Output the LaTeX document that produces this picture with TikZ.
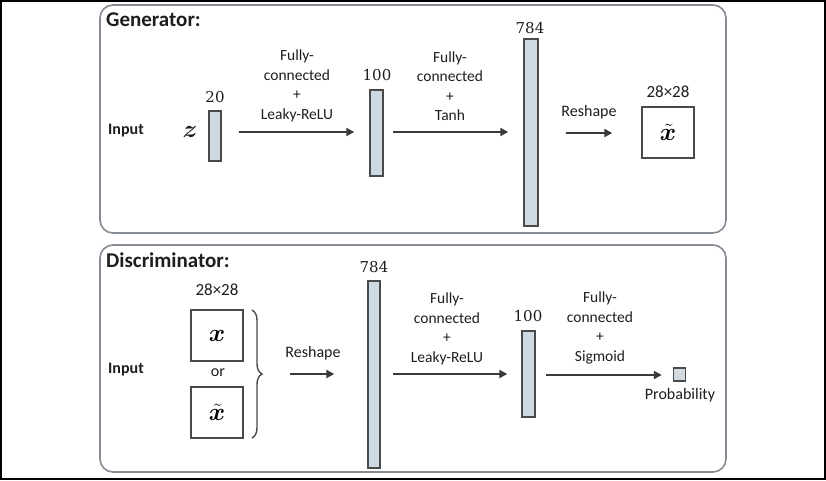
\documentclass[tikz,border=0pt]{standalone}
\usepackage{fontspec}
\setsansfont{Carlito}
\newfontfamily\numfont{DejaVu Serif}
\usepackage{bm}
\usetikzlibrary{arrows.meta,decorations.pathreplacing}
\definecolor{barfill}{HTML}{CDDAE3}
\definecolor{barline}{HTML}{4A4A4A}
\definecolor{panelline}{HTML}{858C94}
\definecolor{arrcol}{HTML}{3A3A3A}
\definecolor{txt}{HTML}{1E1E1E}
\definecolor{probfill}{HTML}{D3DADF}
\begin{document}
\begin{tikzpicture}[x=1pt,y=-1pt,
  panel/.style={draw=panelline,line width=1.6pt,rounded corners=13pt},
  bar/.style={draw=barline,fill=barfill,line width=1.4pt,inner sep=0pt},
  imgbox/.style={draw=barline,fill=white,line width=1.4pt,inner sep=0pt,minimum width=52pt,minimum height=51pt,font=\fontsize{24}{26}\selectfont},
  arr/.style={draw=arrcol,line width=2.6pt,-{Triangle[length=8pt,width=8pt]}},
  lbl/.style={text=txt,font=\sffamily\fontsize{15.5}{19.5}\selectfont,align=center,inner sep=0pt},
  num/.style={text=txt,font=\numfont\fontsize{15}{18}\selectfont,inner sep=0pt},
  ttl/.style={text=txt,font=\sffamily\bfseries\fontsize{21}{23}\selectfont,inner sep=0pt,anchor=west},
  inp/.style={text=txt,font=\sffamily\bfseries\fontsize{16}{18}\selectfont,inner sep=0pt},
  mth/.style={text=txt,font=\fontsize{24}{26}\selectfont,inner sep=0pt}
]
\useasboundingbox (0,0) rectangle (826,480);
\fill[white] (0,0) rectangle (826,480);
\draw[black,line width=2pt] (1,1) rectangle (825,479);

% ---------------- Generator ----------------
\draw[panel] (100,5) rectangle (726,233);
\node[ttl] (gtitle) at (106,20) {Generator:};
\node[inp] (ginput) at (126,131) {Input};
\node[mth] (gz) at (190,132) {$\bm{z}$};

\node[bar,minimum width=12pt,minimum height=50pt] (g20) at (215,136) {};
\node[num] (g20l) at (215,97) {20};
\node[bar,minimum width=13pt,minimum height=86pt] (g100) at (376.5,133) {};
\node[num] (g100l) at (377,75) {100};
\node[bar,minimum width=14pt,minimum height=187pt] (g784) at (531,132.5) {};
\node[num] (g784l) at (530,28) {784};
\node[imgbox] (gsq) at (668,132.5) {$\tilde{\bm{x}}$};
\node[lbl,font=\sffamily\fontsize{17}{19}\selectfont] (gsql) at (668,92) {28×28};

\draw[arr,shorten <=17pt,shorten >=15pt] (g20.east |- 0,132) -- (g100.west |- 0,132);
\draw[arr,shorten <=9pt,shorten >=15pt] (g100.east |- 0,132) -- (g784.west |- 0,132);
\draw[arr,shorten <=27pt,shorten >=29pt] (g784.east |- 0,133) -- (gsq.west |- 0,133);

\node[lbl] (gfc1) at (297,86) {Fully-\\connected\\+\\Leaky-ReLU};
\node[lbl] (gfc2) at (450,86) {Fully-\\connected\\+\\Tanh};
\node[lbl,font=\sffamily\fontsize{16}{19}\selectfont] (grs) at (589,112) {Reshape};

% ---------------- Discriminator ----------------
\draw[panel] (100,245) rectangle (726,472);
\node[ttl] (dtitle) at (106,260) {Discriminator:};
\node[inp] (dinput) at (126,370) {Input};

\node[imgbox] (dx) at (217,335.5) {$\bm{x}$};
\node[imgbox] (dxt) at (217,412.5) {$\tilde{\bm{x}}$};
\node[lbl,font=\sffamily\fontsize{17}{19}\selectfont] (dsql) at (217,290) {28×28};
\node[lbl,font=\sffamily\fontsize{16}{19}\selectfont] (dor) at (218,373) {or};
\draw[barline,line width=1.4pt,decorate,decoration={brace,amplitude=10pt}] (252,310) -- (252,438);
\coordinate (btip) at (263,374);

\node[bar,minimum width=12pt,minimum height=187pt] (d784) at (374,374.5) {};
\node[num] (d784l) at (374,267) {784};
\node[bar,minimum width=13pt,minimum height=86pt] (d100) at (528.5,374) {};
\node[num] (d100l) at (528,316) {100};
\node[draw=barline,fill=probfill,line width=1.4pt,inner sep=0pt,minimum width=12pt,minimum height=13pt] (dprob) at (679.5,374.5) {};
\node[lbl,font=\sffamily\fontsize{16}{19}\selectfont] (dprobl) at (680,395) {Probability};

\draw[arr,shorten <=27pt,shorten >=33pt] (btip) -- (d784.west |- btip);
\draw[arr,shorten <=12pt,shorten >=14pt] (d784.east |- 0,374) -- (d100.west |- 0,374);
\draw[arr,shorten <=10pt,shorten >=11pt] (d100.east |- 0,375) -- (dprob.west |- 0,375);

\node[lbl,font=\sffamily\fontsize{16}{19}\selectfont] (drs) at (313,353) {Reshape};
\node[lbl] (dfc1) at (447,329) {Fully-\\connected\\+\\Leaky-ReLU};
\node[lbl] (dfc2) at (600,328) {Fully-\\connected\\+\\Sigmoid};
\end{tikzpicture}
\end{document}
